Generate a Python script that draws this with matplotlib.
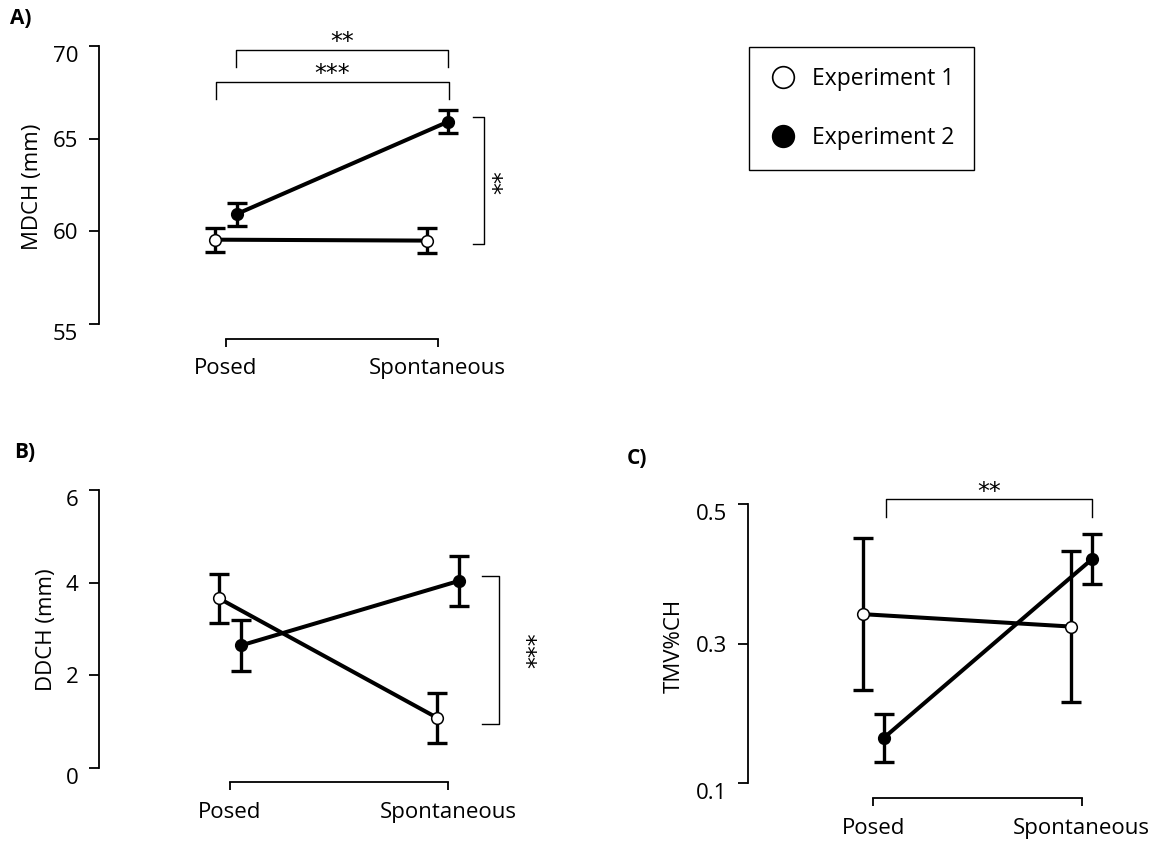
import matplotlib
matplotlib.use("Agg")
import matplotlib.pyplot as plt
from matplotlib.lines import Line2D

# ---------------- data ----------------
CONDITIONS = ["Posed", "Spontaneous"]
EXPERIMENTS = ["Experiment 1", "Experiment 2"]

# A) MDCH (mm)
MDCH_EXP1 = [59.55, 59.50]
MDCH_EXP1_SE = [0.65, 0.67]
MDCH_EXP2 = [60.93, 65.92]
MDCH_EXP2_SE = [0.62, 0.63]

# B) DDCH (mm)
DDCH_EXP1 = [3.66, 1.08]
DDCH_EXP1_SE = [0.53, 0.53]
DDCH_EXP2 = [2.645, 4.04]
DDCH_EXP2_SE = [0.545, 0.54]

# C) TMV%CH
TMV_EXP1 = [0.3425, 0.3247]
TMV_EXP1_SE = [0.1085, 0.108]
TMV_EXP2 = [0.165, 0.4215]
TMV_EXP2_SE = [0.035, 0.0355]

# ---------------- style ----------------
W, H = 1157, 841
plt.rcParams.update({
    "font.family": ["Open Sans", "DejaVu Sans"],
    "font.size": 16,
    "axes.linewidth": 1.3,
    "xtick.major.width": 1.3,
    "ytick.major.width": 1.3,
})
DODGE = 0.05
BRACKET_LW = 1.0
STAR_FONT = dict(family="DejaVu Sans", fontsize=17)

fig = plt.figure(figsize=(W / 100, H / 100), dpi=100)


def lin(p, a, b):
    (pa, va), (pb, vb) = a, b
    return va + (p - pa) * (vb - va) / (pb - pa)


def make_panel(L, R, T, B, xref, yref, yticks, ylabel, label_px):
    # L/B are where the detached spines sit, in pixels from the top-left corner
    ax = fig.add_axes([L / W, 1 - B / H, (R - L) / W, (B - T) / H])
    ax.set_xlim(lin(L, *xref), lin(R, *xref))
    ax.set_ylim(lin(B, *yref), lin(T, *yref))
    for s in ["top", "right"]:
        ax.spines[s].set_visible(False)
    ax.spines["left"].set_bounds(yticks[0], yticks[-1])
    ax.spines["bottom"].set_bounds(1, 2)
    ax.set_yticks(yticks)
    ax.set_xticks([1, 2])
    ax.set_xticklabels(CONDITIONS)
    ax.tick_params(axis="y", length=7.5, pad=7.5)
    ax.tick_params(axis="x", length=6, pad=8)
    ylabs = ax.get_yticklabels()
    ylabs[0].set_verticalalignment("top")
    ylabs[-1].set_verticalalignment("top")
    ax.set_ylabel(ylabel)
    # label_px: right edge / vertical centre of the rotated y label
    ax.yaxis.set_label_coords((label_px[0] - L) / (R - L), (B - label_px[1]) / (B - T))
    ax.patch.set_visible(False)
    return ax


def draw_series(ax, exp1, se1, exp2, se2):
    for vals, se, face, dx in [(exp1, se1, "white", -DODGE), (exp2, se2, "black", DODGE)]:
        x = [i + 1 + dx for i in range(len(vals))]
        ax.errorbar(x, vals, yerr=se, fmt="none", ecolor="black",
                    elinewidth=2.4, capsize=7.5, capthick=2.4, zorder=2, clip_on=False)
        ax.plot(x, vals, "-", color="black", lw=2.9, marker="o", ms=8.4,
                mfc=face, mec="black", mew=1.1, zorder=3, clip_on=False)


def bracket_h(ax, x1, x2, y, y_leg, text, tx, ty):
    ax.plot([x1, x1, x2, x2], [y_leg, y, y, y_leg], color="black",
            lw=BRACKET_LW, clip_on=False)
    ax.annotate(text, (tx, ty), xytext=(0, -5.5), textcoords="offset points",
                ha="center", va="center", annotation_clip=False, **STAR_FONT)


def bracket_v(ax, x_leg, x, y1, y2, text, tx, ty):
    ax.plot([x_leg, x, x, x_leg], [y1, y1, y2, y2], color="black",
            lw=BRACKET_LW, clip_on=False)
    ax.annotate(text, (tx, ty), xytext=(5.5, 0), textcoords="offset points",
                ha="center", va="center", rotation=90, annotation_clip=False,
                **STAR_FONT)


# ---------------- A ----------------
axA = make_panel(99, 520, 46, 339, ((226, 1), (437.7, 2)), ((46, 70), (324, 55)),
                 [55, 60, 65, 70], "MDCH (mm)", (43, 187))
draw_series(axA, MDCH_EXP1, MDCH_EXP1_SE, MDCH_EXP2, MDCH_EXP2_SE)
bracket_h(axA, 1.047, 2.047, 69.78, 68.85, "**", 1.547, 70.65)
bracket_h(axA, 0.951, 2.055, 68.07, 67.12, "***", 1.502, 68.92)
bracket_v(axA, 2.168, 2.22, 66.15, 59.30, "**", 2.274, 62.68)

# ---------------- B ----------------
axB = make_panel(99.3, 560, 490, 782.3, ((230, 1), (448.3, 2)), ((490, 6), (768, 0)),
                 [0, 2, 4, 6], "DDCH (mm)", (57, 630))
draw_series(axB, DDCH_EXP1, DDCH_EXP1_SE, DDCH_EXP2, DDCH_EXP2_SE)
bracket_v(axB, 2.156, 2.232, 4.15, 0.95, "***", 2.372, 2.547)

# ---------------- C ----------------
axC = make_panel(748.3, 1150, 504.3, 798.3, ((873.3, 1), (1081.7, 2)),
                 ((504.3, 0.5), (783.3, 0.1)), [0.1, 0.3, 0.5], "TMV%CH", (685, 646))
draw_series(axC, TMV_EXP1, TMV_EXP1_SE, TMV_EXP2, TMV_EXP2_SE)
bracket_h(axC, 1.061, 2.051, 0.5076, 0.4822, "**", 1.557, 0.5291)

# ---------------- panel letters ----------------
for label, px, py in [("A)", 10, 19), ("B)", 14, 453), ("C)", 627, 458)]:
    fig.text(px / W, 1 - py / H, label, fontsize=15, fontweight="bold", va="center")

# ---------------- legend ----------------
handles = [
    Line2D([], [], ls="none", marker="o", ms=15.6, mfc="white", mec="black", mew=1.2),
    Line2D([], [], ls="none", marker="o", ms=15.6, mfc="black", mec="black", mew=1.2),
]
leg = fig.legend(handles, EXPERIMENTS, loc="upper left",
                 bbox_to_anchor=(749.3 / W, 1 - 46.7 / H), borderaxespad=0,
                 fontsize=16.5, handlelength=1.17, handletextpad=0.68,
                 labelspacing=1.56, borderpad=0.87, fancybox=False,
                 framealpha=1, edgecolor="black")
leg.get_frame().set_linewidth(1.0)

fig.savefig("out.png", dpi=100)
